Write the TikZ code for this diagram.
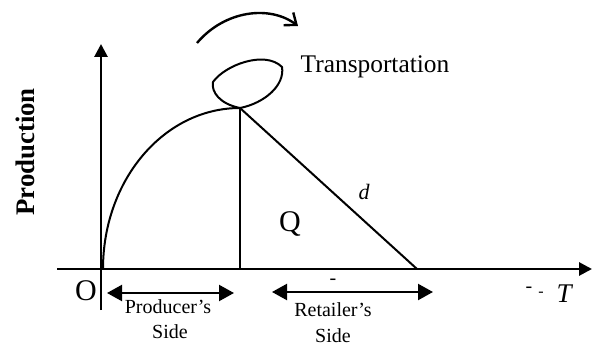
\documentclass[tikz,border=0pt]{standalone}
\usepackage{fontspec}
\setmainfont{Liberation Serif}
\usetikzlibrary{arrows.meta}

\begin{document}
\begin{tikzpicture}[x=0.5pt,y=-0.5pt,
  axis/.style={line width=1.4pt,-{Triangle[length=6.5pt,width=6.5pt]}},
  sidearrow/.style={line width=1.1pt,{Triangle[length=7.5pt,width=8pt]}-{Triangle[length=7.5pt,width=8pt]}},
  curve/.style={line width=1pt},
  sidelbl/.style={font=\fontsize{10}{12}\selectfont,inner sep=0pt}]
  \useasboundingbox (0,0) rectangle (592,347);
  % axes
  \coordinate (xstart) at (57,269);
  \coordinate (xend) at (592,269);
  \coordinate (ybot) at (101,310);
  \coordinate (yend) at (101,44);
  \coordinate (start) at (103,269);
  \coordinate (peak) at (240,108);
  \coordinate (foot) at (240,269);
  \coordinate (dend) at (417,269);
  \draw[axis] (xstart) -- (xend);
  \draw[axis] (ybot) -- (yend);
  % production curve, drop and demand line
  \draw[curve] (start) .. controls (103,180) and (164,108) .. (peak);
  \draw[curve] (peak) -- (foot);
  \draw[curve] (peak) -- (dend);
  % transportation loop
  \draw[curve] (peak) .. controls (220,104) and (211,92) .. (213,82)
    .. controls (225,65) and (265,50) .. (282,67)
    .. controls (285,85) and (265,103) .. (peak);
  \coordinate (turnA) at (197,43);
  \coordinate (turnB) at (298,26);
  \draw[line width=1.2pt,-{Straight Barb[length=5pt,width=8pt]}] (turnA)
    .. controls (225,10) and (270,5) .. (turnB);
  % labels
  \node[font=\fontsize{12.7}{15}\selectfont] (trans) at (375,67) {Transportation};
  \node[font=\fontsize{13.4}{16}\selectfont\bfseries,rotate=90] (prod) at (25,152) {Production};
  \node[font=\fontsize{15}{18}\selectfont,inner sep=0pt] (orig) at (86,291) {O};
  \node[font=\fontsize{15}{18}\selectfont,inner sep=0pt] (qty) at (290,224) {Q};
  \node[font=\fontsize{11}{13}\selectfont\itshape,inner sep=0pt] (dem) at (364,192) {d};
  \node[font=\fontsize{13.5}{16}\selectfont\itshape,inner sep=0pt] (tvar) at (564,294) {T};
  \node[font=\fontsize{10}{12}\selectfont,inner sep=0pt] (mA) at (529,290) {-};
  \node[font=\fontsize{8}{10}\selectfont,inner sep=0pt] (mB) at (541,294) {-};
  \node[font=\fontsize{10}{12}\selectfont,inner sep=0pt] (mC) at (333,282) {-};
  % sides
  \coordinate (pL) at (107,293);
  \coordinate (pR) at (234,293);
  \coordinate (rL) at (272,292);
  \coordinate (rR) at (433,292);
  \draw[sidearrow] (pL) -- (pR);
  \draw[sidearrow] (rL) -- (rR);
  \node[sidelbl] (prodA) at (168,307) {Producer's};
  \node[sidelbl] (prodB) at (170,332) {Side};
  \node[sidelbl] (retA) at (333,310) {Retailer's};
  \node[sidelbl] (retB) at (333,336) {Side};
\end{tikzpicture}
\end{document}
